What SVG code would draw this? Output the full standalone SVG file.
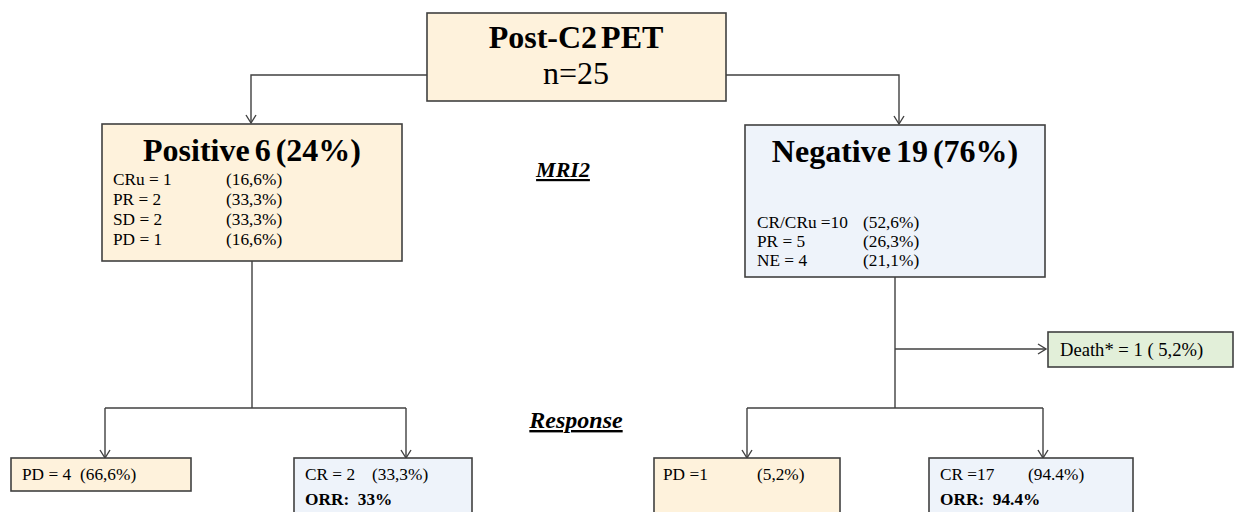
<svg xmlns="http://www.w3.org/2000/svg" width="1235" height="512" viewBox="0 0 1235 512">
<style>
.box{stroke:#404040;stroke-width:1.6}
.peach{fill:#FEF2DC}
.blue{fill:#EEF3FA}
.green{fill:#E2EFD9}
.t{font-family:"Liberation Serif","Times New Roman",serif;fill:#000}
.title{font-size:32px;font-weight:bold}
.big{font-size:32px}
.s{font-size:17.3px}
.d{font-size:18.6px}
.b{font-weight:bold}
.lab{font-family:"Liberation Serif",serif;font-weight:bold;font-style:italic;text-decoration:underline}
.c{fill:none;stroke:#404040;stroke-width:1.4}
</style>
<defs>
<marker id="arr" markerUnits="userSpaceOnUse" markerWidth="14" markerHeight="14" refX="9" refY="6" orient="auto">
<path d="M1,1 L9,6 L1,11" fill="none" stroke="#404040" stroke-width="1.4"/>
</marker>
</defs>
<rect width="1235" height="512" fill="#fff"/>
<g id="connectors">
<path class="c" d="M427,75 H251 V123" marker-end="url(#arr)"/>
<path class="c" d="M726,75 H899 V124" marker-end="url(#arr)"/>
<path class="c" d="M252,261 V408"/>
<path class="c" d="M105,408 H406"/>
<path class="c" d="M105,408 V458" marker-end="url(#arr)"/>
<path class="c" d="M406,408 V458" marker-end="url(#arr)"/>
<path class="c" d="M895,277 V408"/>
<path class="c" d="M895,349 H1046" marker-end="url(#arr)"/>
<path class="c" d="M747,408 H1043"/>
<path class="c" d="M747,408 V458" marker-end="url(#arr)"/>
<path class="c" d="M1043,408 V458" marker-end="url(#arr)"/>
</g>
<g id="top">
<rect class="box peach" x="427" y="13" width="299" height="88"/>
<text class="t title" x="576" y="48" text-anchor="middle" word-spacing="-4">Post-C2 PET</text>
<text class="t big" x="576" y="84" text-anchor="middle">n=25</text>
</g>
<g id="positive">
<rect class="box peach" x="102" y="124" width="300" height="137"/>
<text class="t title" x="252" y="161" text-anchor="middle" word-spacing="-3">Positive 6 (24%)</text>
<text class="t s" x="113" y="185">CRu = 1</text><text class="t s" x="226" y="185">(16,6%)</text>
<text class="t s" x="113" y="205">PR = 2</text><text class="t s" x="226" y="205">(33,3%)</text>
<text class="t s" x="113" y="225">SD = 2</text><text class="t s" x="226" y="225">(33,3%)</text>
<text class="t s" x="113" y="245">PD = 1</text><text class="t s" x="226" y="245">(16,6%)</text>
</g>
<g id="negative">
<rect class="box blue" x="745" y="125" width="300" height="152"/>
<text class="t title" x="895" y="162" text-anchor="middle" word-spacing="-3">Negative 19 (76%)</text>
<text class="t s" x="757" y="228">CR/CRu =10</text><text class="t s" x="863" y="228">(52,6%)</text>
<text class="t s" x="757" y="247">PR = 5</text><text class="t s" x="863" y="247">(26,3%)</text>
<text class="t s" x="757" y="266">NE = 4</text><text class="t s" x="863" y="266">(21,1%)</text>
</g>
<g id="mri2"><text class="lab" x="563" y="177" font-size="22" text-anchor="middle">MRI2</text></g>
<g id="response"><text class="lab" x="576" y="428" font-size="24" text-anchor="middle">Response</text></g>
<g id="death">
<rect class="box green" x="1048" y="332" width="185" height="35"/>
<text class="t d" x="1060" y="356">Death* = 1 ( 5,2%)</text>
</g>
<g id="pd-left">
<rect class="box peach" x="11" y="458" width="180" height="33"/>
<text class="t s" x="22" y="480">PD = 4</text><text class="t s" x="80" y="480">(66,6%)</text>
</g>
<g id="cr-left">
<rect class="box blue" x="294" y="458" width="178" height="60"/>
<text class="t s" x="305" y="480">CR = 2</text><text class="t s" x="372" y="480">(33,3%)</text>
<text class="t s b" x="305" y="505" xml:space="preserve">ORR:  33%</text>
</g>
<g id="pd-right">
<rect class="box peach" x="654" y="458" width="186" height="60"/>
<text class="t s" x="663" y="480">PD =1</text><text class="t s" x="757" y="480">(5,2%)</text>
</g>
<g id="cr-right">
<rect class="box blue" x="929" y="458" width="204" height="60"/>
<text class="t s" x="940" y="480">CR =17</text><text class="t s" x="1028" y="480">(94.4%)</text>
<text class="t s b" x="940" y="505" xml:space="preserve">ORR:  94.4%</text>
</g>
</svg>
